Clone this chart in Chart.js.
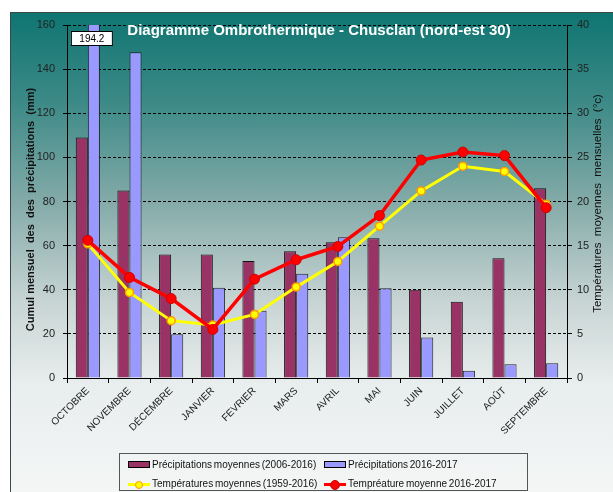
<!DOCTYPE html>
<html>
<head>
<meta charset="utf-8">
<title>Diagramme Ombrothermique - Chusclan</title>
<script src="https://cdn.jsdelivr.net/npm/chart.js@4.4.1/dist/chart.umd.min.js"></script>
<style>
    body { margin: 0; background: #fff; font-family: "Liberation Sans", Arial, sans-serif; }
    #wrap { position: relative; width: 613px; height: 492px; overflow: hidden; }
    #fond {
        position: absolute; left: 10px; top: 12px; width: 620px; height: 500px;
        border: 1px solid #3a4848;
        background: linear-gradient(to bottom, #0f7571 0%, #3d8a87 18%, #84aba9 38%, #c8d5d4 58%, #e8eded 74%, #f7f8f8 100%);
    }
    canvas { position: absolute; left: 0; top: 0; }
    #legende {
        position: absolute; left: 119px; top: 453px; width: 407px; height: 36px;
        border: 1px solid #555; font-size: 10px; color: #111;
    }
    .item { position: absolute; height: 14px; line-height: 14px; white-space: nowrap; word-spacing: -1px; }
    .item span { position: absolute; left: 24px; top: 0; }
    .pastille { position: absolute; left: 0; top: 3px; width: 20px; height: 5px; border: 1px solid #000; }
    .trait { position: absolute; left: 0; top: 6px; width: 22px; height: 3px; }
    .point { position: absolute; border-radius: 50%; }
</style>
</head>
<body>
<div id="wrap">
    <div id="fond"></div>
    <canvas id="ombroChart" width="613" height="492"></canvas>
    <div id="legende"></div>
</div>
<script>
// Données
const mois = ['OCTOBRE', 'NOVEMBRE', 'DÉCEMBRE', 'JANVIER', 'FEVRIER', 'MARS', 'AVRIL', 'MAI', 'JUIN', 'JUILLET', 'AOÛT', 'SEPTEMBRE'];
const precipMoyennes = [109, 85, 56, 56, 53, 57.5, 61.5, 63.3, 40, 34.6, 54.3, 86];      // mm, 2006-2016
const precip2016 = [194.2, 147.6, 19.8, 40.9, 30.5, 47.3, 63.8, 40.7, 18.4, 3.3, 6.2, 6.7]; // mm, 2016-2017
const tempMoyennes = [15.2, 9.7, 6.5, 6.0, 7.2, 10.3, 13.2, 17.2, 21.2, 24.0, 23.4, 19.7];  // °C, 1959-2016
const temp2016 = [15.6, 11.4, 9.0, 5.5, 11.2, 13.4, 14.9, 18.4, 24.7, 25.6, 25.2, 19.3];    // °C, 2016-2017
const ticksPrecip = [0, 20, 40, 60, 80, 100, 120, 140, 160];
const ticksTemp = [0, 5, 10, 15, 20, 25, 30, 35, 40];

const police = '"Liberation Sans", Arial, sans-serif';

// Titre et titres d'axes dessinés à la main (positions comme l'original)
const titrePlugin = {
    id: 'titre',
    afterDraw(chart) {
        const ctx = chart.ctx;
        const { top, bottom } = chart.chartArea;
        ctx.save();
        ctx.font = 'bold 15px ' + police;
        ctx.fillStyle = '#fff';
        ctx.textAlign = 'center';
        ctx.textBaseline = 'middle';
        ctx.fillText('Diagramme Ombrothermique - Chusclan (nord-est 30)', 319, 31);

        // axe de gauche
        ctx.save();
        ctx.translate(31, (top + bottom) / 2 + 8);
        ctx.rotate(-Math.PI / 2);
        ctx.font = 'bold 11px ' + police;
        ctx.fillStyle = '#111';
        ctx.fillText('Cumul mensuel  des  des  précipitations  (mm)', 0, 0);
        ctx.restore();

        // axe de droite, lu de bas en haut
        ctx.translate(598, (top + bottom) / 2 + 2);
        ctx.rotate(-Math.PI / 2);
        ctx.font = '11.5px ' + police;
        ctx.fillStyle = '#111';
        ctx.fillText('Températures  moyennes  mensuelles  (°c)', 0, 0);
        ctx.restore();
    }
};

// Étiquette de la barre qui dépasse l'échelle (octobre 2016)
const etiquettePlugin = {
    id: 'etiquette',
    afterDatasetsDraw(chart) {
        const bar = chart.getDatasetMeta(1).data[0];
        const ctx = chart.ctx;
        const x = bar.x - 2;
        const y = chart.chartArea.top + 13;
        ctx.save();
        ctx.fillStyle = '#fff';
        ctx.fillRect(x - 21, y - 7, 42, 14);
        ctx.strokeStyle = '#000';
        ctx.lineWidth = 1;
        ctx.strokeRect(x - 20.5, y - 6.5, 41, 14);
        ctx.fillStyle = '#000';
        ctx.font = '10px ' + police;
        ctx.textAlign = 'center';
        ctx.textBaseline = 'middle';
        ctx.fillText(precip2016[0].toFixed(1), x, y + 1);
        ctx.restore();
    }
};

const ctx = document.getElementById('ombroChart').getContext('2d');
const ombroChart = new Chart(ctx, {
    type: 'bar',
    data: {
        labels: mois,
        datasets: [
            {
                label: 'Précipitations moyennes (2006-2016)',
                data: precipMoyennes,
                backgroundColor: '#993366',
                borderColor: '#111',
                borderWidth: 1,
                yAxisID: 'y',
                order: 2
            },
            {
                label: 'Précipitations 2016-2017',
                data: precip2016,
                backgroundColor: '#9999ff',
                borderColor: '#222',
                borderWidth: 1,
                yAxisID: 'y',
                order: 3
            },
            {
                type: 'line',
                label: 'Températures moyennes (1959-2016)',
                data: tempMoyennes,
                borderColor: '#ffff00',
                borderWidth: 3,
                pointRadius: 4,
                pointBackgroundColor: '#ffff00',
                pointBorderColor: '#ff9900',
                pointBorderWidth: 1.5,
                tension: 0,
                yAxisID: 'y1',
                order: 1
            },
            {
                type: 'line',
                label: 'Tempréature moyenne 2016-2017',
                data: temp2016,
                borderColor: '#ff0000',
                borderWidth: 3.5,
                pointRadius: 5,
                pointBackgroundColor: '#ff0000',
                pointBorderColor: '#cc0000',
                pointBorderWidth: 1,
                tension: 0,
                yAxisID: 'y1',
                order: 0
            }
        ]
    },
    options: {
        responsive: false,
        animation: false,
        layout: { padding: { top: 25, left: 0, right: 0, bottom: 0 } },
        datasets: {
            bar: { categoryPercentage: 0.58, barPercentage: 1.0 }
        },
        plugins: {
            legend: { display: false },
            tooltip: { enabled: false }
        },
        scales: {
            x: {
                offset: true,
                grid: {
                    display: true,
                    drawOnChartArea: false,
                    drawTicks: true,
                    tickLength: 5,
                    color: '#000',
                    tickColor: '#000'
                },
                border: { display: true, color: '#000', width: 1 },
                ticks: {
                    color: '#1a1a1a',
                    font: { family: police, size: 10 },
                    maxRotation: 45,
                    minRotation: 45,
                    padding: 2,
                    autoSkip: false
                },
                afterFit: s => { s.height = 114; }
            },
            y: {
                position: 'left',
                min: 0,
                max: 160,
                afterBuildTicks: s => { s.ticks = ticksPrecip.map(v => ({ value: v })); },
                grid: {
                    color: '#000',
                    lineWidth: 1,
                    tickBorderDash: [],
                    tickColor: '#000',
                    tickLength: 4
                },
                border: { display: true, color: '#000', width: 1, dash: [3, 2] },
                ticks: {
                    color: '#222',
                    font: { family: police, size: 11 },
                    padding: 8
                },
                afterFit: s => { s.width = 67; }
            },
            y1: {
                position: 'right',
                min: 0,
                max: 40,
                afterBuildTicks: s => { s.ticks = ticksTemp.map(v => ({ value: v })); },
                grid: {
                    drawOnChartArea: false,
                    tickColor: '#000',
                    tickLength: 5
                },
                border: { display: true, color: '#000', width: 1 },
                ticks: {
                    color: '#222',
                    font: { family: police, size: 11 },
                    padding: 5
                },
                afterFit: s => { s.width = 46; }
            }
        }
    },
    plugins: [titrePlugin, etiquettePlugin]
});

// Légende HTML encadrée, deux colonnes comme l'original
function construireLegende(chart) {
    const boite = document.getElementById('legende');
    const colonnes = [8, 204];
    const lignes = [4, 23];
    chart.data.datasets.forEach((ds, i) => {
        const item = document.createElement('div');
        item.className = 'item';
        item.style.left = colonnes[i % 2] + 'px';
        item.style.top = lignes[Math.floor(i / 2)] + 'px';
        if ((ds.type || 'bar') === 'bar') {
            const p = document.createElement('div');
            p.className = 'pastille';
            p.style.background = ds.backgroundColor;
            item.appendChild(p);
        } else {
            const t = document.createElement('div');
            t.className = 'trait';
            t.style.background = ds.borderColor;
            item.appendChild(t);
            const r = ds.pointRadius - 1;
            const pt = document.createElement('div');
            pt.className = 'point';
            pt.style.width = (r * 2) + 'px';
            pt.style.height = (r * 2) + 'px';
            pt.style.left = (11 - r - 1) + 'px';
            pt.style.top = (7.5 - r - 1) + 'px';
            pt.style.background = ds.pointBackgroundColor;
            pt.style.border = '1px solid ' + ds.pointBorderColor;
            item.appendChild(pt);
        }
        const txt = document.createElement('span');
        txt.textContent = ds.label;
        item.appendChild(txt);
        boite.appendChild(item);
    });
}
construireLegende(ombroChart);
</script>
</body>
</html>
